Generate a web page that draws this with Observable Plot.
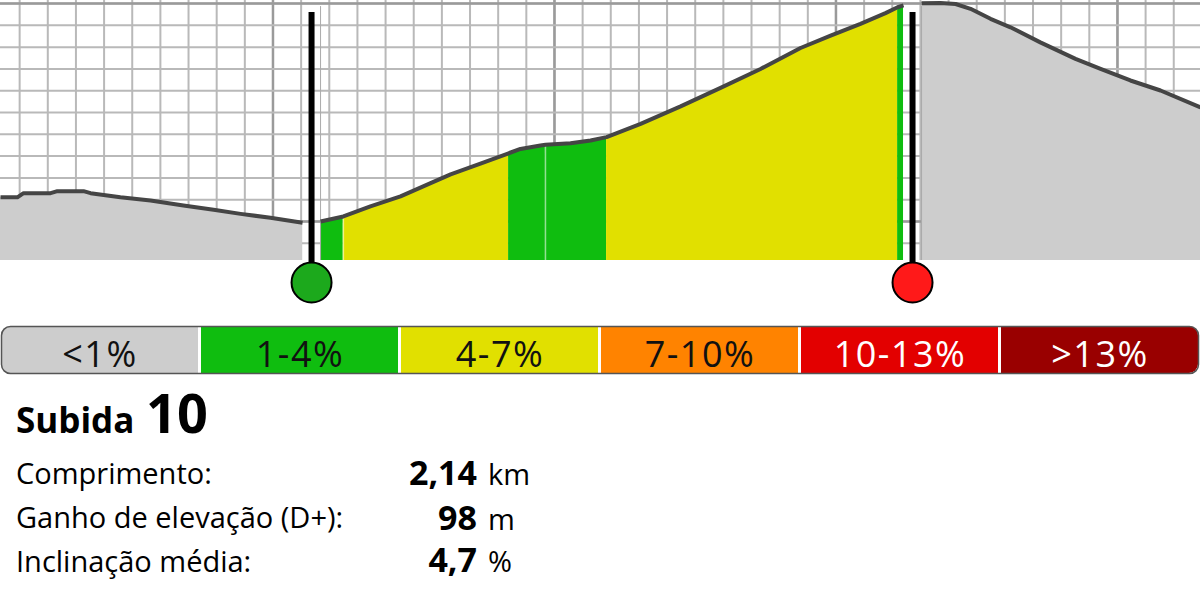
<!DOCTYPE html>
<html><head><meta charset="utf-8">
<script src="https://cdn.jsdelivr.net/npm/d3@7"></script>
<script src="https://cdn.jsdelivr.net/npm/@observablehq/plot@0.6"></script>
<style>
html,body{margin:0;padding:0;background:#fff;width:1200px;height:600px;overflow:hidden;font-family:"Open Sans",sans-serif;}
#profile{position:absolute;left:0;top:0;}
#legend{position:absolute;left:1px;top:318px;}
#legend svg{display:block;overflow:visible;}
.t{position:absolute;white-space:nowrap;line-height:1;color:#000;font-family:"Open Sans",sans-serif;}
</style></head><body>
<div id="profile"></div><div id="legend"></div><div id="stats"></div>
<script>
// ---- data ----
const profileKm = [2.032,2.092,2.114,2.210,2.234,2.327,2.352,2.458,2.565,2.682,2.789,2.885,2.991,3.105,
  3.169,3.250,3.346,3.453,3.560,3.631,3.737,3.837,3.879,3.950,3.968,4.057,4.128,4.185,4.306,4.448,4.590,4.732,4.874,4.981,5.087,5.176,5.219,5.240,
  5.304,5.371,5.425,5.478,5.549,5.620,5.726,5.851,5.940,6.046,6.153,6.295];
const profileElev = [211.1,211.1,213.0,213.0,213.9,213.9,213.0,211.1,209.6,207.3,205.4,203.5,201.7,199.4,
  200.0,202.3,206.9,211.5,217.6,221.6,226.5,231.3,233.3,234.9,235.2,235.9,237.2,238.7,244.8,252.8,261.3,270.0,279.6,285.3,290.7,295.6,298.3,299.2,
  300.1,300.3,299.8,297.6,293.0,289.1,282.2,274.6,270.0,264.7,260.1,252.4];
const climbStartKm = 3.137;
const climbEndKm = 5.272;
const segBreaksKm = [3.169, 3.250, 3.837, 3.968, 4.185, 5.219, 5.240];
const segClasses = ["1-4%", "4-7%", "1-4%", "1-4%", "4-7%", "1-4%"];
const legendLabels = ["<1%", "1-4%", "4-7%", "7-10%", "10-13%", ">13%"];
const legendColors = ["#cdcdcd", "#0fbd0f", "#e1e000", "#ff8300", "#e30000", "#990000"];
const legendTextColors = ["#111", "#111", "#111", "#111", "#fff", "#fff"];
const climbTitle = "Subida";
const climbNumber = "10";
const statLabels = ["Comprimento:", "Ganho de elevação (D+):", "Inclinação média:"];
const statValues = ["2,14", "98", "4,7"];
const statUnits = ["km", "m", "%"];

// ---- scales / helpers ----
const xDomain = [2.032, 6.295];
const yMin = 182.1, yMax = 301.4;
const gap = 0.032;           // half-width of the blank band round each pole
const eps = 1e-9;
const gridMinorX = d3.range(21, 63).map(d => d / 10);
const gridMajorX = gridMinorX.filter(d => Math.abs(d - Math.round(d)) < eps);
const gridMinorY = d3.range(19, 31).map(d => d * 10);
const gridMajorY = gridMinorY.filter(d => d % 100 === 0);

const pts = profileKm.map((km, i) => ({km, elev: profileElev[i]}));
const before = pts.filter(p => p.km <= climbStartKm - gap + eps);
const climb = pts.filter(p => p.km >= climbStartKm + gap - eps && p.km <= climbEndKm - gap + eps);
const after = pts.filter(p => p.km >= climbEndKm + gap - eps);
const colorOf = c => legendColors[legendLabels.indexOf(c)];
const segments = segClasses.map((c, i) => ({
  cls: c,
  pts: climb.filter(p => p.km >= segBreaksKm[i] - eps && p.km <= segBreaksKm[i + 1] + eps)
}));
const seams = [segBreaksKm[1], segBreaksKm[3]].map(k => pts.find(p => Math.abs(p.km - k) < eps));

const lineStyle = {x: "km", y: "elev", stroke: "#454545", strokeWidth: 4, strokeLinejoin: "round", strokeLinecap: "butt"};
const areaStyle = fill => ({x: "km", y1: () => yMin, y2: "elev", fill});

const profile = Plot.plot({
  width: 1200, height: 310,
  marginTop: 0, marginLeft: 0, marginRight: 0, marginBottom: 50,
  x: {domain: xDomain, axis: null},
  y: {domain: [yMin, yMax], axis: null},
  style: {background: "white", overflow: "visible"},
  marks: [
    Plot.ruleX(gridMinorX, {stroke: "#b9b9b9", strokeWidth: 2}),
    Plot.ruleX(gridMajorX, {stroke: "#9a9a9a", strokeWidth: 2.5}),
    Plot.ruleY(gridMinorY, {stroke: "#b9b9b9", strokeWidth: 2}),
    Plot.ruleY(gridMajorY, {stroke: "#9a9a9a", strokeWidth: 2.5}),
    Plot.areaY(before, areaStyle(legendColors[0])),
    Plot.areaY(after, areaStyle(legendColors[0])),
    ...segments.map(s => Plot.areaY(s.pts, areaStyle(colorOf(s.cls)))),
    Plot.ruleX(seams, {x: "km", y1: () => yMin, y2: "elev", stroke: "white", strokeOpacity: 0.55, strokeWidth: 1.5}),
    Plot.ruleX([climbStartKm + gap, climbEndKm + gap], {x: d => d, y1: () => yMin, y2: () => 298.6, stroke: "#aaa", strokeWidth: 1}),
    Plot.line(before, lineStyle),
    Plot.line(climb, lineStyle),
    Plot.line(after, lineStyle),
    Plot.ruleX([climbStartKm, climbEndKm], {x: d => d, y1: () => 295.9, y2: () => yMin, insetBottom: -22, stroke: "black", strokeWidth: 6}),
    Plot.dot([climbStartKm], {x: d => d, frameAnchor: "bottom", dy: 22, r: 20, fill: "#1ca91c", stroke: "black", strokeWidth: 2}),
    Plot.dot([climbEndKm], {x: d => d, frameAnchor: "bottom", dy: 22, r: 20, fill: "#ff1919", stroke: "black", strokeWidth: 2})
  ]
});
document.getElementById("profile").append(profile);

// legend: frame occupies y 326..373 of the page (svg top at 318, margins 8/10)
const firstLab = legendLabels[0], lastLab = legendLabels[legendLabels.length - 1];
const midLabs = legendLabels.slice(1, -1);
const legend = Plot.plot({
  width: 1197, height: 65, marginTop: 8, marginBottom: 10, marginLeft: 0, marginRight: 0,
  x: {type: "band", domain: legendLabels, paddingInner: 0.015, paddingOuter: 0, axis: null},
  color: {type: "identity"},
  style: {background: "transparent", fontFamily: "Open Sans", overflow: "visible"},
  marks: [
    Plot.cell([firstLab], {x: d => d, fill: legendColors[0], rx: 9}),
    Plot.cell([firstLab], {x: d => d, fill: legendColors[0], insetLeft: 30}),
    Plot.cell(midLabs, {x: d => d, fill: d => legendColors[legendLabels.indexOf(d)]}),
    Plot.cell([lastLab], {x: d => d, fill: legendColors[5], rx: 9}),
    Plot.cell([lastLab], {x: d => d, fill: legendColors[5], insetRight: 30}),
    Plot.text(legendLabels, {x: d => d, frameAnchor: "middle", dy: 5, text: d => d, fill: d => legendTextColors[legendLabels.indexOf(d)], fontSize: 36}),
    Plot.frame({stroke: "#555", strokeWidth: 1.5, rx: 9})
  ]
});
legend.querySelectorAll("text").forEach(t => t.setAttribute("letter-spacing", "1.5"));
document.getElementById("legend").append(legend);

// ---- text block ----
const stats = document.getElementById("stats");
function place(text, x, baseline, fs, weight, align) {
  const el = document.createElement("div");
  el.className = "t";
  el.textContent = text;
  el.style.fontSize = fs + "px";
  el.style.fontWeight = weight;
  el.style.top = (baseline - 0.888 * fs) + "px";
  if (align === "right") el.style.right = (1200 - x) + "px"; else el.style.left = x + "px";
  stats.append(el);
}
place(climbTitle, 16, 433, 35, 700);
place(climbNumber, 146, 433, 54, 700);
const labelBase = [484, 528, 572];
const valueBase = [485, 530, 572];
statLabels.forEach((s, i) => place(s, 16, labelBase[i], 29, 400));
statValues.forEach((s, i) => place(s, 477, valueBase[i], 34, 700, "right"));
statUnits.forEach((s, i) => place(s, 488, valueBase[i], 29, 400));
</script></body></html>
